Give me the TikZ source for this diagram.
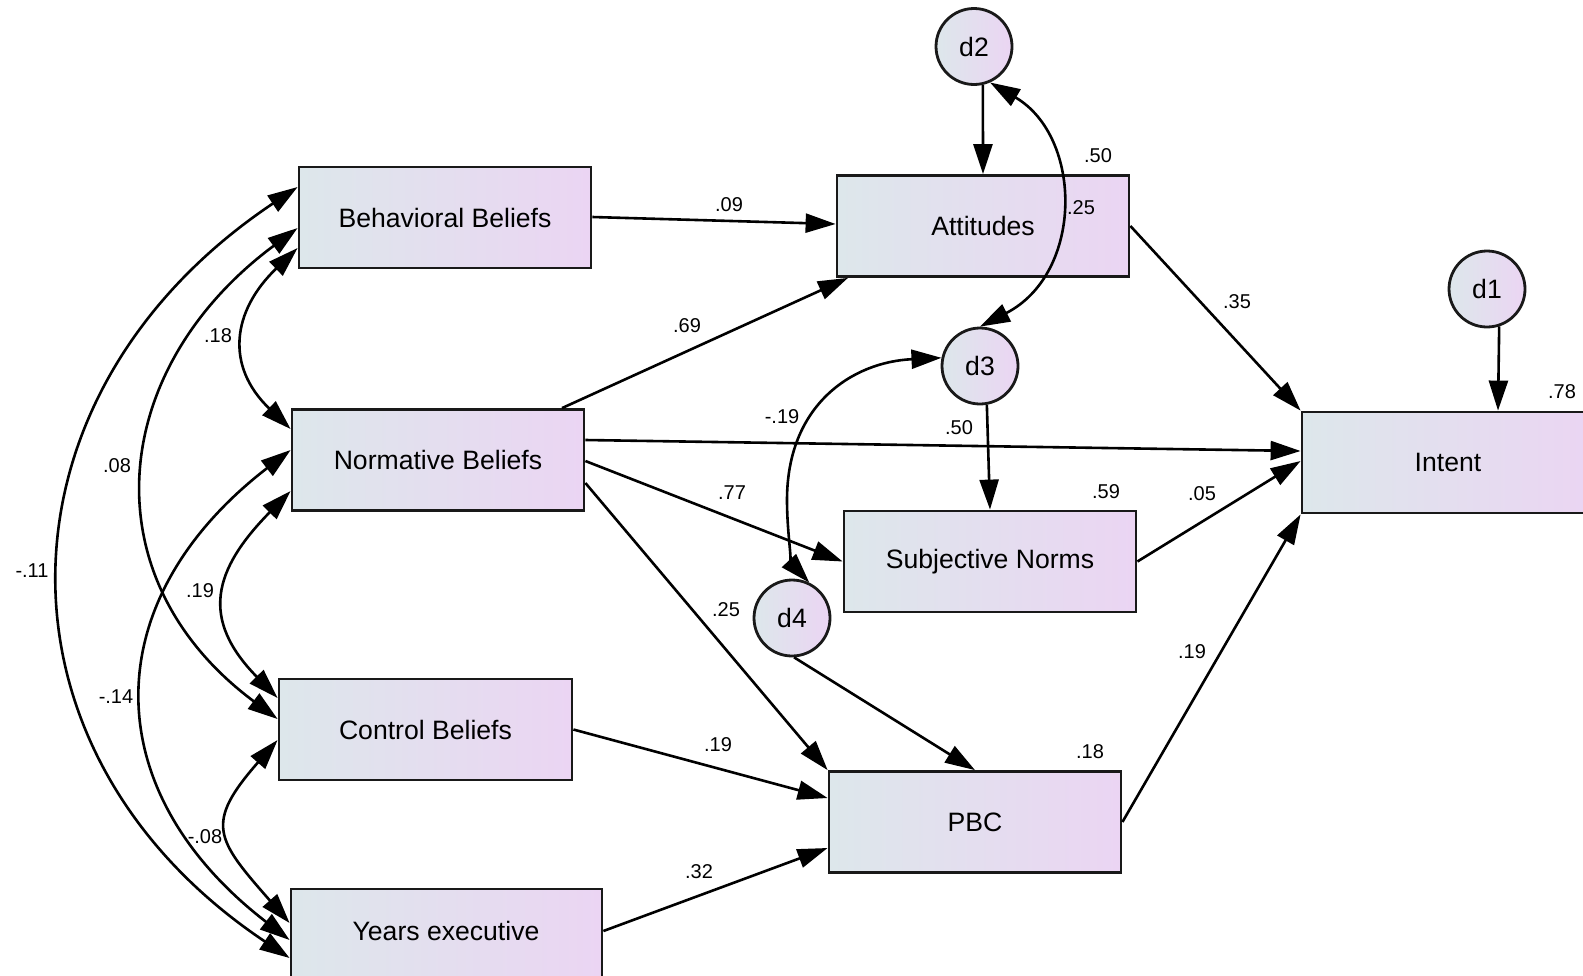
\documentclass[tikz,border=0pt]{standalone}
\usepackage{fontspec}
\setmainfont{Liberation Sans}
\usetikzlibrary{arrows.meta,calc}
\definecolor{fillL}{RGB}{221,231,235}
\definecolor{fillR}{RGB}{235,213,243}
\definecolor{ink}{RGB}{25,25,25}
\begin{document}
\begin{tikzpicture}[x=0.5pt, y=-0.5pt,
  var/.style={draw=ink, line width=1.4pt, left color=fillL, right color=fillR,
    minimum width=146pt, minimum height=50.5pt, inner sep=0pt,
    font=\fontsize{13.3}{16}\selectfont},
  err/.style={circle, draw=ink, line width=1.4pt, left color=fillL, right color=fillR,
    minimum size=38pt, inner sep=0pt, font=\fontsize{13.3}{16}\selectfont},
  arr/.style={line width=1.3pt, -{Triangle[length=15pt,width=9.5pt]}},
  cov/.style={line width=1.3pt, {Triangle[length=15pt,width=9.5pt]}-{Triangle[length=15pt,width=9.5pt]}},
  coef/.style={font=\fontsize{10}{12}\selectfont, inner sep=0pt}
]
\useasboundingbox (0,0) rectangle (1583,975);

% observed variables
\node[var] (bb)  at (445,217.5) {Behavioral Beliefs};
\node[var] (att) at (983,226)   {Attitudes};
\node[var] (nb)  at (438,460)   {Normative Beliefs};
\node[var] (int) at (1448,462.5){Intent};
\node[var] (sn)  at (990,561.5) {Subjective Norms};
\node[var, minimum width=146.5pt] (cb) at (425.5,729.5) {Control Beliefs};
\node[var] (pbc) at (975,822)   {PBC};
\node[var, minimum width=155.5pt] (yb) at (446.5,939.5) {};
\node[font=\fontsize{13.3}{16}\selectfont, inner sep=0pt] (ybt) at (446,931) {Years executive};

% disturbances
\node[err] (d2) at (974,46.5) {d2};
\node[err] (d3) at (980,366)  {d3};
\node[err] (d1) at (1487,289) {d1};
\node[err] (d4) at (792,618)  {d4};

% regression paths
\draw[arr] (bb.east |- 0,217) -- (att.west |- 0,224);
\draw[arr] (562,0 |- nb.north) -- (848,0 |- att.south);
\draw[arr] (att.east) -- (int.north west);
\draw[arr] (d2.-77) -- (att.north);
\draw[arr] (d1.-72) -- (1498,0 |- int.north);
\draw[arr] (nb.east |- 0,440) -- (int.west |- 0,451);
\draw[arr] (nb.east |- 0,461) -- (sn.west);
\draw[arr] (nb.east |- 0,483) -- (pbc.north west);
\draw[arr] (d3.-80) -- (sn.north);
\draw[arr] (sn.east) -- (int.west |- 0,461);
\draw[arr] (d4.-87) -- (pbc.north);
\draw[arr] (cb.east) -- (pbc.west |- 0,798);
\draw[arr] (yb.east |- 0,931) -- (pbc.west |- 0,848);
\draw[arr] (pbc.east) -- (int.south west);

% error covariances
\draw[cov] (d2.-66) .. controls (1083,137) and (1084,273) .. (d3.north);
\draw[cov] (d3.168) .. controls (852,362) and (787,405) .. (787,500)
                    .. controls (787,535) and (793,565) .. (d4.64);

% covariances among exogenous variables
\draw[cov] (bb.west |- 0,248) .. controls (232,311) and (225,366) .. (nb.west |- 0,429);
\draw[cov] (bb.west |- 0,228) .. controls (108,369) and (88,578) .. (cb.west |- 0,719);
\draw[cov] (bb.west |- 0,187) .. controls (-12,394) and (-20,751) .. (yb.west |- 0,958);
\draw[cov] (nb.west |- 0,491) .. controls (213,570) and (200,619) .. (cb.west |- 0,698);
\draw[cov] (nb.west |- 0,450) .. controls (96,600) and (95,790) .. (yb.west |- 0,940);
\draw[cov] (cb.west |- 0,740) .. controls (204,824) and (216,839) .. (yb.west |- 0,923);

% estimates
\node[coef] (e1)  at (729,205)  {.09};
\node[coef] (e2)  at (1098,156) {.50};
\node[coef] (e3)  at (1081,208) {.25};
\node[coef] (e4)  at (1237,302) {.35};
\node[coef] (e5)  at (1562,392) {.78};
\node[coef] (e6)  at (687,326)  {.69};
\node[coef] (e7)  at (218,336)  {.18};
\node[coef] (e8)  at (782,417)  {-.19};
\node[coef] (e9)  at (959,428)  {.50};
\node[coef] (e10) at (117,466)  {.08};
\node[coef] (e11) at (732,493)  {.77};
\node[coef] (e12) at (1106,492) {.59};
\node[coef] (e13) at (1202,494) {.05};
\node[coef] (e14) at (32,571)   {-.11};
\node[coef] (e15) at (200,591)  {.19};
\node[coef] (e16) at (726,610)  {.25};
\node[coef] (e17) at (1192,652) {.19};
\node[coef] (e18) at (116,697)  {-.14};
\node[coef] (e19) at (718,745)  {.19};
\node[coef] (e20) at (1090,752) {.18};
\node[coef] (e21) at (205,837)  {-.08};
\node[coef] (e22) at (699,872)  {.32};
\end{tikzpicture}
\end{document}
